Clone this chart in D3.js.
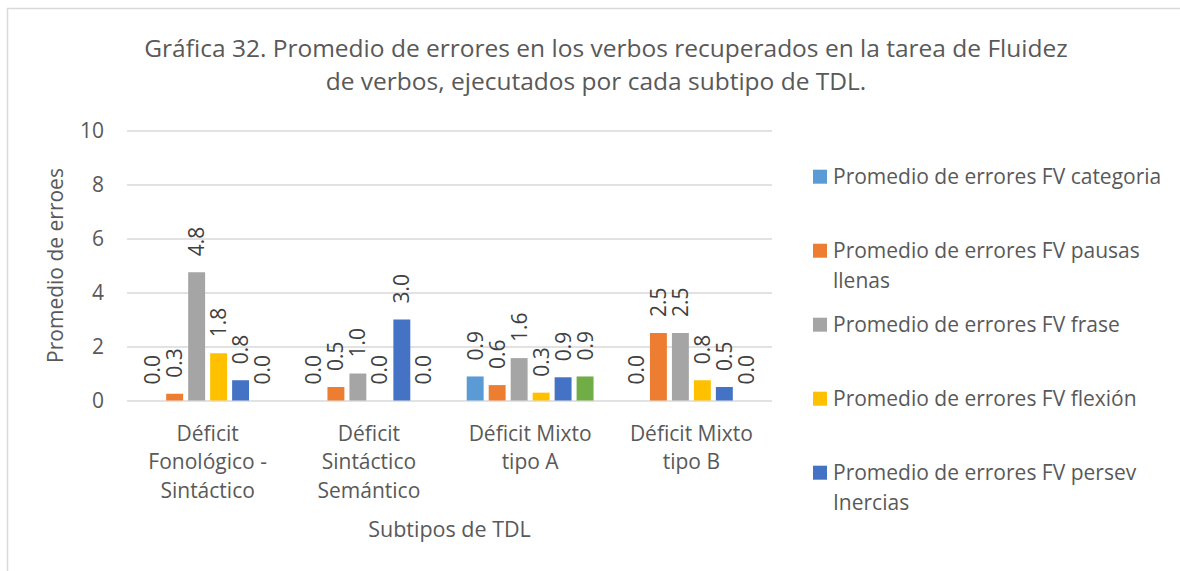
<!DOCTYPE html>
<html>
<head>
<meta charset="utf-8">
<script src="https://cdn.jsdelivr.net/npm/d3@7.9.0/dist/d3.min.js"></script>
<style>
  body { margin: 0; background: #fff; }
  svg { display: block; font-family: "Open Sans", sans-serif; }
</style>
</head>
<body>
<svg id="chart" width="1180" height="571"></svg>
<script>
// data
const categories = [
  'Déficit Fonológico - Sintáctico',
  'Déficit Sintáctico Semántico',
  'Déficit Mixto tipo A',
  'Déficit Mixto tipo B'
];
const seriesNames = [
  'Promedio de errores FV categoria',
  'Promedio de errores FV pausas llenas',
  'Promedio de errores FV frase',
  'Promedio de errores FV flexión',
  'Promedio de errores FV persev Inercias',
  'Promedio de errores FV otros' // 6th series, its legend entry is cut off
];
const categoria = [0, 0, 0.89, 0];
const pausasLlenas = [0.25, 0.5, 0.57, 2.5];
const frase = [4.75, 1.0, 1.57, 2.5];
const flexion = [1.75, 0, 0.29, 0.75];
const persevInercias = [0.75, 3.0, 0.86, 0.5];
const otros = [0, 0, 0.89, 0];
const seriesValues = [categoria, pausasLlenas, frase, flexion, persevInercias, otros];
const yTicks = [0, 2, 4, 6, 8, 10];
const legendShown = 5; // only five entries fit in the legend box

const colors = ['#5B9BD5', '#ED7D31', '#A5A5A5', '#FFC000', '#4472C4', '#70AD47'];
const textColor = '#595959';
const gridColor = '#d9d9d9';
const fs = '21px';

const svg = d3.select('#chart');

// outer chart border
svg.append('rect')
  .attr('x', 7.5).attr('y', 8.5)
  .attr('width', 1200).attr('height', 600)
  .attr('fill', 'none').attr('stroke', gridColor).attr('stroke-width', 1.5);

// title
const title = svg.append('text')
  .attr('text-anchor', 'middle')
  .attr('fill', textColor)
  .style('font-size', '24.5px');
title.append('tspan').attr('x', 606).attr('y', 57)
  .text('Gráfica 32. Promedio de errores en los verbos recuperados en la tarea de Fluidez');
title.append('tspan').attr('x', 596).attr('y', 90)
  .text('de verbos, ejecutados por cada subtipo de TDL.');

const plot = { left: 127, right: 772, top: 130.5, bottom: 400.5 };

const x0 = d3.scaleBand()
  .domain(categories)
  .range([plot.left, plot.right])
  .paddingInner(0.2)
  .paddingOuter(0.1);

const x1 = d3.scaleBand()
  .domain(d3.range(seriesNames.length))
  .range([0, x0.bandwidth()])
  .paddingInner(0.23)
  .paddingOuter(0.05);

const y = d3.scaleLinear().domain([0, 10]).range([plot.bottom, plot.top]);

// gridlines + y tick labels
const yAxis = svg.append('g')
  .attr('transform', `translate(${plot.left},0)`)
  .call(d3.axisLeft(y).tickValues(yTicks).tickSize(-(plot.right - plot.left)).tickPadding(23));
yAxis.select('.domain').remove();
yAxis.selectAll('.tick line').attr('stroke', gridColor).attr('stroke-width', 1.5);
yAxis.selectAll('.tick text')
  .attr('fill', textColor)
  .style('font-size', fs)
  .style('font-family', '"Open Sans", sans-serif');

// bars
const groups = svg.append('g').selectAll('g')
  .data(categories)
  .join('g')
  .attr('transform', d => `translate(${x0(d)},0)`);

groups.selectAll('rect')
  .data((d, ci) => seriesValues.map((vals, si) => ({ si, v: vals[ci] })))
  .join('rect')
  .attr('x', d => x1(d.si))
  .attr('width', x1.bandwidth())
  .attr('y', d => y(d.v))
  .attr('height', d => y(0) - y(d.v))
  .attr('fill', d => colors[d.si]);

// data labels, rotated
groups.selectAll('text.lbl')
  .data((d, ci) => seriesValues.map((vals, si) => ({ si, v: vals[ci] })))
  .join('text')
  .attr('class', 'lbl')
  .attr('transform', d => `translate(${x1(d.si) + x1.bandwidth() / 2},${y(d.v) - 16}) rotate(-90)`)
  .attr('dy', '0.36em')
  .attr('fill', '#404040')
  .style('font-size', fs)
  .text(d => d.v.toFixed(1));

// category axis
const xAxis = svg.append('g')
  .attr('transform', `translate(0,${plot.bottom})`)
  .call(d3.axisBottom(x0).tickSize(0).tickPadding(0));
xAxis.select('.domain').remove();
xAxis.selectAll('.tick text')
  .attr('fill', textColor)
  .attr('dy', null)
  .style('font-size', fs)
  .style('font-family', '"Open Sans", sans-serif')
  .each(function (d) { wrap(d3.select(this), d, 150, 40, 28.5); });

function wrap(textSel, str, width, firstY, lineH) {
  const words = str.split(' ');
  textSel.text(null);
  let line = [];
  let lineNo = 0;
  let tspan = textSel.append('tspan').attr('x', 0).attr('y', firstY);
  words.forEach(w => {
    line.push(w);
    tspan.text(line.join(' '));
    if (tspan.node().getComputedTextLength() > width && line.length > 1) {
      line.pop();
      tspan.text(line.join(' '));
      line = [w];
      lineNo++;
      tspan = textSel.append('tspan').attr('x', 0).attr('y', firstY + lineNo * lineH).text(w);
    }
  });
}

// axis titles
svg.append('text')
  .attr('transform', `translate(${(plot.left + plot.right) / 2},537)`)
  .attr('text-anchor', 'middle')
  .attr('fill', textColor)
  .style('font-size', '21.5px')
  .text('Subtipos de TDL');

svg.append('text')
  .attr('transform', `translate(63,${(plot.top + plot.bottom) / 2}) rotate(-90)`)
  .attr('text-anchor', 'middle')
  .attr('fill', textColor)
  .style('font-size', fs)
  .text('Promedio de erroes');

// legend
const legend = svg.append('g').selectAll('g')
  .data(seriesNames.slice(0, legendShown))
  .join('g')
  .attr('transform', (d, i) => `translate(813,${176.7 + i * 74})`);

legend.append('rect')
  .attr('x', 0).attr('y', -7)
  .attr('width', 14).attr('height', 14)
  .attr('fill', (d, i) => colors[i]);

legend.append('text')
  .attr('fill', textColor)
  .style('font-size', fs)
  .each(function (d) {
    const t = d3.select(this);
    wrap(t, d, 335, 7.5, 30);
    t.selectAll('tspan').attr('x', 20);
  });
</script>
</body>
</html>
